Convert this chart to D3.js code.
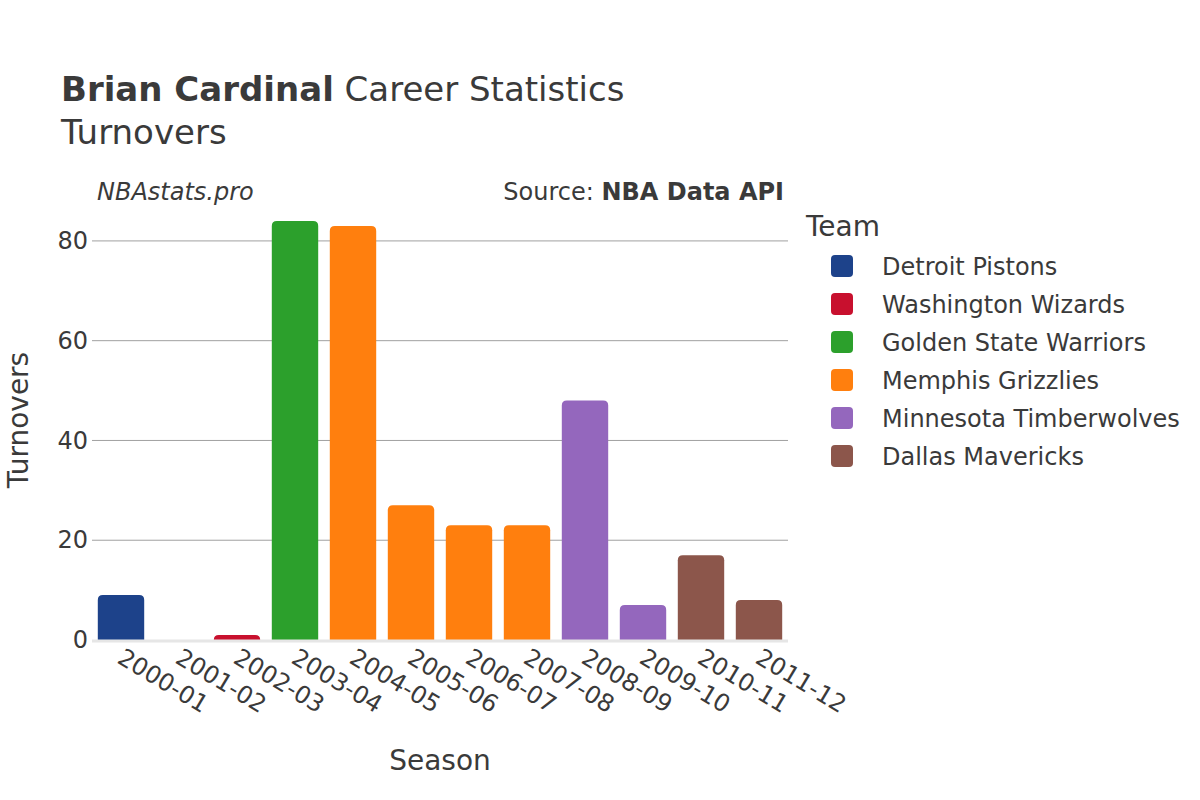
<!DOCTYPE html>
<html>
<head>
<meta charset="utf-8">
<script src="https://cdn.jsdelivr.net/npm/d3@7"></script>
<style>
  body { margin: 0; background: #fff; }
  svg { font-family: "DejaVu Sans", sans-serif; }
</style>
</head>
<body>
<svg id="chart" width="1200" height="800"></svg>
<script>
const seasons = ["2000-01","2001-02","2002-03","2003-04","2004-05","2005-06","2006-07","2007-08","2008-09","2009-10","2010-11","2011-12"];
const turnovers = [9, 0, 1, 84, 83, 27, 23, 23, 48, 7, 17, 8];
const seasonTeams = ["Detroit Pistons","Washington Wizards","Washington Wizards","Golden State Warriors","Memphis Grizzlies","Memphis Grizzlies","Memphis Grizzlies","Memphis Grizzlies","Minnesota Timberwolves","Minnesota Timberwolves","Dallas Mavericks","Dallas Mavericks"];
const teams = ["Detroit Pistons","Washington Wizards","Golden State Warriors","Memphis Grizzlies","Minnesota Timberwolves","Dallas Mavericks"];
const teamColors = ["#1d428a","#c8102e","#2ca02c","#ff7f0e","#9467bd","#8c564b"];
const yTicks = [0, 20, 40, 60, 80];

const data = seasons.map((s, i) => ({season: s, value: turnovers[i], team: seasonTeams[i]}));

const svg = d3.select("#chart");
const mLeft = 92, mRight = 788, mBottom = 640, mTop = 201;
const txt = "#3a3a3a";

const x = d3.scaleBand().domain(seasons).range([mLeft, mRight]).paddingInner(0.2).paddingOuter(0.1);
const y = d3.scaleLinear().domain([0, 88]).range([mBottom, mTop]);
const color = d3.scaleOrdinal().domain(teams).range(teamColors);

// gridlines
svg.append("g").selectAll("line").data(yTicks.filter(d => d > 0)).join("line")
  .attr("x1", mLeft).attr("x2", mRight)
  .attr("y1", d => y(d)).attr("y2", d => y(d))
  .attr("stroke", "#a0a0a0").attr("stroke-width", 1);

// bars with rounded top
const r = 5;
svg.append("g").selectAll("path").data(data).join("path")
  .attr("d", d => {
    const x0 = x(d.season), w = x.bandwidth(), y0 = y(d.value), h = y(0) - y0;
    const rr = Math.min(r, h, w / 2);
    return `M${x0},${y(0)} L${x0},${y0 + rr} Q${x0},${y0} ${x0 + rr},${y0} L${x0 + w - rr},${y0} Q${x0 + w},${y0} ${x0 + w},${y0 + rr} L${x0 + w},${y(0)} Z`;
  })
  .attr("fill", d => color(d.team));

// zero line
svg.append("line").attr("x1", mLeft).attr("x2", mRight).attr("y1", y(0) + 1).attr("y2", y(0) + 1)
  .attr("stroke", "#e6e6e6").attr("stroke-width", 3);

// y axis
const yAxis = svg.append("g").attr("transform", `translate(${mLeft},0)`)
  .call(d3.axisLeft(y).tickValues(yTicks).tickSize(0).tickPadding(4));
yAxis.select(".domain").remove();
yAxis.selectAll("text").attr("font-size", 24).attr("fill", txt).attr("font-family", "DejaVu Sans");

// x axis
const xAxis = svg.append("g").attr("transform", `translate(0,${mBottom})`)
  .call(d3.axisBottom(x).tickSize(0));
xAxis.select(".domain").remove();
xAxis.selectAll("text")
  .attr("font-size", 24).attr("fill", txt).attr("font-family", "DejaVu Sans")
  .attr("text-anchor", "start")
  .attr("dy", 0).attr("y", 0)
  .attr("transform", "translate(-5,22) rotate(31)");

// titles
const title = svg.append("text").attr("x", 61).attr("y", 101).attr("font-size", 34).attr("fill", txt);
title.append("tspan").attr("font-weight", "bold").text("Brian Cardinal");
title.append("tspan").text(" Career Statistics");
svg.append("text").attr("x", 61).attr("y", 144).attr("font-size", 34).attr("fill", txt).text("Turnovers");

svg.append("text").attr("x", 97).attr("y", 200).attr("font-size", 24).attr("font-style", "italic").attr("fill", txt).text("NBAstats.pro");
const src = svg.append("text").attr("x", 784).attr("y", 200).attr("font-size", 24).attr("text-anchor", "end").attr("fill", txt);
src.append("tspan").text("Source: ");
src.append("tspan").attr("font-weight", "bold").text("NBA Data API");

// axis titles
svg.append("text").attr("x", 440).attr("y", 770).attr("text-anchor", "middle").attr("font-size", 28).attr("fill", txt).text("Season");
svg.append("text").attr("transform", "translate(28,420) rotate(-90)").attr("text-anchor", "middle").attr("font-size", 28).attr("fill", txt).text("Turnovers");

// legend
svg.append("text").attr("x", 806).attr("y", 236).attr("font-size", 28).attr("fill", txt).text("Team");
const lg = svg.append("g").selectAll("g").data(teams).join("g")
  .attr("transform", (d, i) => `translate(0,${266 + i * 38})`);
lg.append("rect").attr("x", 831).attr("y", -11).attr("width", 22).attr("height", 22).attr("rx", 4)
  .attr("fill", d => color(d));
lg.append("text").attr("x", 882).attr("y", 9).attr("font-size", 24).attr("fill", txt).text(d => d);
</script>
</body>
</html>
